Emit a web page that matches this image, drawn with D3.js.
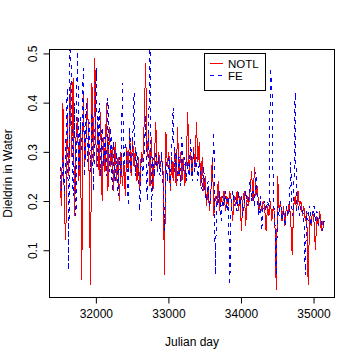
<!DOCTYPE html>
<html>
<head>
<meta charset="utf-8">
<script src="https://cdn.jsdelivr.net/npm/d3@7"></script>
<style>
  body { margin: 0; background: #fff; }
  text { font-family: "Liberation Sans", Arial, sans-serif; }
</style>
</head>
<body>
<div id="chart"></div>
<script>
// sampling days (Julian day)
var days = [
    31506, 31526, 31546, 31566, 31586, 31606, 31626, 31646, 31666, 31686,
    31706, 31726, 31746, 31766, 31786, 31806, 31826, 31846, 31866, 31886,
    31906, 31926, 31946, 31966, 31986, 32006, 32026, 32046, 32066, 32086,
    32106, 32126, 32146, 32166, 32186, 32206, 32226, 32246, 32266, 32286,
    32306, 32326, 32346, 32366, 32386, 32406, 32426, 32446, 32466, 32486,
    32506, 32526, 32546, 32566, 32586, 32606, 32626, 32646, 32666, 32686,
    32706, 32726, 32746, 32766, 32786, 32806, 32826, 32846, 32866, 32886,
    32906, 32926, 32946, 32966, 32986, 33006, 33026, 33046, 33066, 33086,
    33106, 33126, 33146, 33166, 33186, 33206, 33226, 33246, 33266, 33286,
    33306, 33326, 33346, 33366, 33386, 33406, 33426, 33446, 33466, 33486,
    33506, 33526, 33546, 33566, 33586, 33606, 33626, 33646, 33666, 33686,
    33706, 33726, 33746, 33766, 33786, 33806, 33826, 33846, 33866, 33886,
    33906, 33926, 33946, 33966, 33986, 34006, 34026, 34046, 34066, 34086,
    34106, 34126, 34146, 34166, 34186, 34206, 34226, 34246, 34266, 34286,
    34306, 34326, 34346, 34366, 34386, 34406, 34426, 34446, 34466, 34486,
    34506, 34526, 34546, 34566, 34586, 34606, 34626, 34646, 34666, 34686,
    34706, 34726, 34746, 34766, 34786, 34806, 34826, 34846, 34866, 34886,
    34906, 34926, 34946, 34966, 34986, 35006, 35026, 35046, 35066, 35086,
    35106, 35126, 35146
];

// dieldrin in water, NOTL station
var notl = [
    0.24, 0.19, 0.40, 0.18, 0.12, 0.37, 0.25, 0.44, 0.29, 0.45,
    0.17, 0.33, 0.37, 0.24, 0.35, 0.04, 0.42, 0.27, 0.33, 0.41,
    0.26, 0.03, 0.44, 0.28, 0.49, 0.27, 0.36, 0.25, 0.38, 0.20,
    0.33, 0.26, 0.40, 0.22, 0.35, 0.27, 0.31, 0.22, 0.32, 0.24,
    0.29, 0.20, 0.30, 0.23, 0.28, 0.21, 0.31, 0.26, 0.34, 0.25,
    0.33, 0.27, 0.31, 0.24, 0.29, 0.22, 0.30, 0.28, 0.36, 0.48,
    0.29, 0.34, 0.23, 0.33, 0.22, 0.28, 0.36, 0.26, 0.30, 0.27,
    0.29, 0.26, 0.05, 0.34, 0.27, 0.30, 0.22, 0.29, 0.24, 0.31,
    0.23, 0.35, 0.25, 0.30, 0.24, 0.29, 0.23, 0.28, 0.38, 0.26,
    0.30, 0.25, 0.31, 0.27, 0.36, 0.28, 0.32, 0.23, 0.29, 0.22,
    0.25, 0.19, 0.23, 0.18, 0.22, 0.29, 0.17, 0.21, 0.19, 0.24,
    0.18, 0.21, 0.19, 0.22, 0.18, 0.21, 0.19, 0.22, 0.20, 0.16,
    0.21, 0.19, 0.22, 0.18, 0.21, 0.14, 0.20, 0.22, 0.15, 0.21,
    0.19, 0.22, 0.26, 0.20, 0.27, 0.21, 0.23, 0.18, 0.20, 0.18,
    0.20, 0.19, 0.14, 0.19, 0.17, 0.20, 0.16, 0.19, 0.17, 0.02,
    0.25, 0.18, 0.20, 0.16, 0.19, 0.15, 0.19, 0.17, 0.20, 0.16,
    0.09, 0.19, 0.21, 0.18, 0.22, 0.19, 0.20, 0.17, 0.19, 0.16,
    0.18, 0.03, 0.17, 0.15, 0.18, 0.16, 0.10, 0.17, 0.15, 0.18,
    0.14, 0.16, 0.145
];

// dieldrin in water, FE station
var fe = [
    0.27, 0.22, 0.29, 0.21, 0.31, 0.43, 0.06, 0.58, 0.40, 0.21,
    0.40, 0.17, 0.56, 0.26, 0.37, 0.30, 0.47, 0.25, 0.40, 0.28,
    0.36, 0.26, 0.38, 0.22, 0.33, 0.47, 0.27, 0.40, 0.25, 0.35,
    0.27, 0.33, 0.25, 0.41, 0.26, 0.35, 0.22, 0.32, 0.24, 0.30,
    0.21, 0.29, 0.25, 0.44, 0.27, 0.32, 0.28, 0.19, 0.35, 0.26,
    0.31, 0.42, 0.25, 0.30, 0.26, 0.18, 0.29, 0.25, 0.30, 0.375,
    0.20, 0.31, 0.55, 0.16, 0.29, 0.25, 0.30, 0.26, 0.29, 0.25,
    0.30, 0.23, 0.14, 0.28, 0.24, 0.29, 0.23, 0.30, 0.39, 0.26,
    0.30, 0.24, 0.29, 0.23, 0.33, 0.26, 0.29, 0.24, 0.28, 0.25,
    0.33, 0.24, 0.30, 0.26, 0.29, 0.24, 0.28, 0.25, 0.22, 0.27,
    0.21, 0.20, 0.24, 0.19, 0.22, 0.25, 0.34, 0.05, 0.21, 0.19,
    0.22, 0.16, 0.21, 0.19, 0.22, 0.18, 0.21, 0.03, 0.20, 0.22,
    0.19, 0.21, 0.18, 0.22, 0.19, 0.21, 0.17, 0.20, 0.22, 0.19,
    0.21, 0.24, 0.20, 0.22, 0.19, 0.26, 0.20, 0.17, 0.21, 0.14,
    0.19, 0.20, 0.18, 0.20, 0.19, 0.47, 0.44, 0.20, 0.17, 0.05,
    0.19, 0.17, 0.20, 0.16, 0.18, 0.15, 0.19, 0.17, 0.18, 0.28,
    0.17, 0.19, 0.42, 0.18, 0.19, 0.17, 0.19, 0.18, 0.17, 0.05,
    0.18, 0.16, 0.19, 0.15, 0.17, 0.19, 0.16, 0.18, 0.15, 0.17,
    0.16, 0.14, 0.16
];

var xTicks = [32000, 33000, 34000, 35000];
var yTicks = [0.1, 0.2, 0.3, 0.4, 0.5];

var W = 360, H = 360;
// plot box edges
var boxL = 49.5, boxR = 334.5, boxT = 49.5, boxB = 297.5;

var svg = d3.select("#chart")
    .append("svg")
    .attr("width", W)
    .attr("height", H);

var x = d3.scaleLinear().domain([31361, 35289]).range([boxL, boxR]);
var y = d3.scaleLinear().domain([0.004, 0.508]).range([boxB, boxT]);

// clip the series to the plot box
svg.append("clipPath")
    .attr("id", "plotclip")
    .append("rect")
    .attr("x", boxL)
    .attr("y", boxT)
    .attr("width", boxR - boxL)
    .attr("height", boxB - boxT);

var line = d3.line()
    .x(function (d) { return x(d[0]); })
    .y(function (d) { return y(d[1]); });

var g = svg.append("g").attr("clip-path", "url(#plotclip)");

// R draws these without antialiasing
g.append("path")
    .datum(days.map(function (d, i) { return [d, notl[i]]; }))
    .attr("d", line)
    .attr("fill", "none")
    .attr("stroke", "#ff0000")
    .attr("stroke-width", 1)
    .attr("shape-rendering", "crispEdges");

g.append("path")
    .datum(days.map(function (d, i) { return [d, fe[i]]; }))
    .attr("d", line)
    .attr("fill", "none")
    .attr("stroke", "#0000ff")
    .attr("stroke-width", 1)
    .attr("stroke-dasharray", "4,4")
    .attr("shape-rendering", "crispEdges");

// box
svg.append("rect")
    .attr("x", boxL)
    .attr("y", boxT)
    .attr("width", boxR - boxL)
    .attr("height", boxB - boxT)
    .attr("fill", "none")
    .attr("stroke", "#000");

// X axis
var xAxis = svg.append("g")
    .attr("transform", "translate(0," + boxB + ")")
    .call(d3.axisBottom(x).tickValues(xTicks).tickSize(6).tickPadding(6).tickFormat(d3.format("d")));
xAxis.select(".domain").remove();
xAxis.selectAll("text").attr("font-size", 12).attr("fill", "#000")
    .attr("font-family", "Liberation Sans, Arial, sans-serif");

// Y axis, labels rotated like R
var yAxis = svg.append("g")
    .attr("transform", "translate(" + boxL + ",0)")
    .call(d3.axisLeft(y).tickValues(yTicks).tickSize(6).tickFormat(d3.format(".1f")));
yAxis.select(".domain").remove();
yAxis.selectAll("text")
    .attr("font-size", 12)
    .attr("fill", "#000")
    .attr("font-family", "Liberation Sans, Arial, sans-serif")
    .attr("x", null)
    .attr("dy", null)
    .attr("text-anchor", "middle")
    .attr("transform", "translate(-13,0) rotate(-90)");

// axis titles
svg.append("text")
    .attr("x", (boxL + boxR) / 2)
    .attr("y", 346)
    .attr("text-anchor", "middle")
    .attr("font-size", 12)
    .text("Julian day");

svg.append("text")
    .attr("transform", "translate(12," + ((boxT + boxB) / 2) + ") rotate(-90)")
    .attr("text-anchor", "middle")
    .attr("font-size", 12)
    .text("Dieldrin in Water");

// legend
var leg = svg.append("g");
leg.append("rect")
    .attr("x", 204.5).attr("y", 53.5)
    .attr("width", 61).attr("height", 37)
    .attr("fill", "#fff").attr("stroke", "#000");

var legItems = [["NOTL", "#ff0000", null], ["FE", "#0000ff", "4,4"]];
legItems.forEach(function (d, i) {
    var ly = 63.5 + i * 12;
    leg.append("line")
        .attr("x1", 210).attr("x2", 223)
        .attr("y1", ly).attr("y2", ly)
        .attr("stroke", d[1])
        .attr("stroke-dasharray", d[2]);
    leg.append("text")
        .attr("x", 228).attr("y", ly + 4)
        .attr("font-size", 11.5)
        .text(d[0]);
});
</script>
</body>
</html>
